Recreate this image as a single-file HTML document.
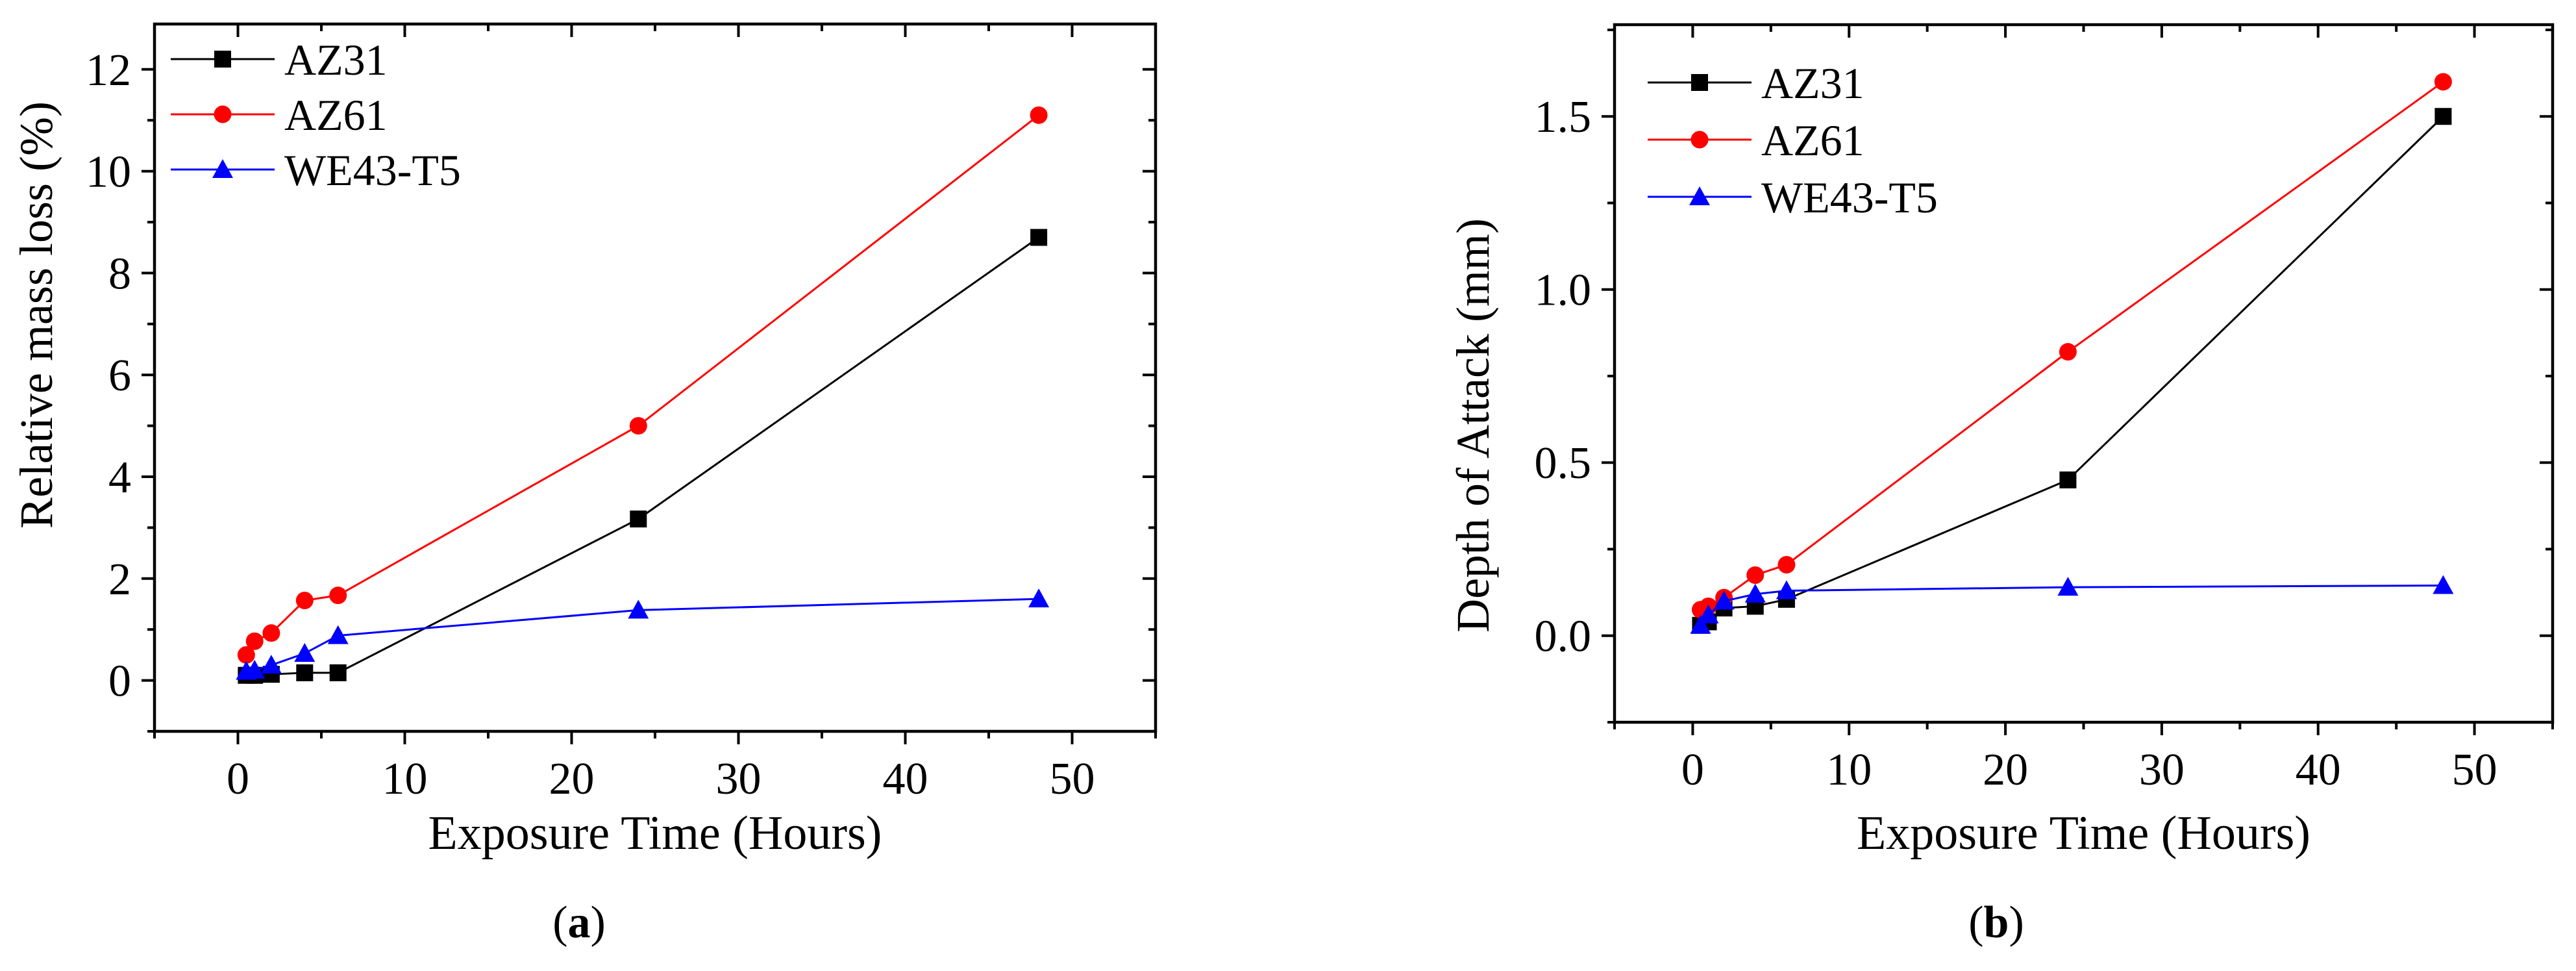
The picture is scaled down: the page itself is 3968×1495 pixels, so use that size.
<!DOCTYPE html>
<html><head><meta charset="utf-8"><style>
html,body{margin:0;padding:0;background:#fff;}
svg{display:block;}
text{font-family:"Liberation Serif",serif;fill:#000;}
</style></head>
<body>
<svg id="fig" width="3968" height="1495" viewBox="0 0 3968 1495" xmlns="http://www.w3.org/2000/svg"></svg>
<script>
// ---- data ----
const timesA = [0.5, 1, 2, 4, 6, 24, 48];
const massAZ31 = [0.1, 0.1, 0.12, 0.15, 0.15, 3.17, 8.7];
const massAZ61 = [0.5, 0.77, 0.93, 1.57, 1.67, 5.0, 11.1];
const massWE43 = [0.18, 0.2, 0.3, 0.53, 0.88, 1.38, 1.6];
const depthAZ31 = [0.03, 0.04, 0.08, 0.085, 0.105, 0.45, 1.5];
const depthAZ61 = [0.075, 0.085, 0.11, 0.175, 0.205, 0.82, 1.6];
const depthWE43 = [0.03, 0.06, 0.1, 0.12, 0.13, 0.14, 0.145];
const xTicks = [0, 10, 20, 30, 40, 50];
const yTicksA = [0, 2, 4, 6, 8, 10, 12];
const yTicksB = [0, 0.5, 1.0, 1.5];
const seriesNames = ["AZ31", "AZ61", "WE43-T5"];

const NS = "http://www.w3.org/2000/svg";
const svg = document.getElementById("fig");
function mk(tag, attrs, parent) {
  const e = document.createElementNS(NS, tag);
  for (const k in attrs) e.setAttribute(k, attrs[k]);
  (parent || svg).appendChild(e);
  return e;
}

function marker(g, type, cx, cy, color) {
  let m;
  if (type === "square") m = mk("rect", {x: cx - 13, y: cy - 13, width: 26, height: 26, fill: color}, g);
  else if (type === "circle") m = mk("circle", {cx: cx, cy: cy, r: 13.5, fill: color}, g);
  else m = mk("polygon", {points: `${cx},${cy - 16} ${cx + 16},${cy + 13} ${cx - 16},${cy + 13}`, fill: color}, g);
  return m;
}

function chart(cfg) {
  const g = mk("g", {});
  
  
  const X = v => cfg.L + (v - cfg.xmin) / (cfg.xmax - cfg.xmin) * (cfg.R - cfg.L);
  const Y = v => cfg.B - (v - cfg.ymin) / (cfg.ymax - cfg.ymin) * (cfg.B - cfg.T);
  const fr = mk("rect", {x: cfg.L, y: cfg.T, width: cfg.R - cfg.L, height: cfg.B - cfg.T, fill: "none", stroke: "#000", "stroke-width": 4.5}, g);
  
  
  for (let v = -5; v <= 55; v += 5) {
    const major = v % 10 === 0;
    const len = major ? 20 : 11;
    const x = X(v);
    mk("line", {x1: x, y1: cfg.B, x2: x, y2: cfg.B + len, stroke: "#000", "stroke-width": 4}, g);
    mk("line", {x1: x, y1: cfg.T, x2: x, y2: cfg.T + len, stroke: "#000", "stroke-width": 4}, g);
  }
  xTicks.forEach(v => {
    const t = mk("text", {x: X(v), y: cfg.B + 96, "text-anchor": "middle", "font-size": 70}, g);
    t.textContent = v;
    
    
  });
  const ystep = cfg.yMinor;
  for (let v = Math.ceil(cfg.ymin / ystep) * ystep; v <= cfg.ymax + 1e-9; v += ystep) {
    const r = Math.round(v / ystep);
    const major = r % 2 === 0;
    const len = major ? 20 : 11;
    const y = Y(v);
    mk("line", {x1: cfg.L, y1: y, x2: cfg.L - len, y2: y, stroke: "#000", "stroke-width": 4}, g);
    mk("line", {x1: cfg.R, y1: y, x2: cfg.R - len, y2: y, stroke: "#000", "stroke-width": 4}, g);
  }
  cfg.yTicks.forEach(v => {
    const t = mk("text", {x: cfg.L - 36, y: Y(v) + 24, "text-anchor": "end", "font-size": 70}, g);
    t.textContent = cfg.fmt(v);
    
    
  });
  const colors = ["#000", "#f00", "#00f"];
  const types = ["square", "circle", "triangle"];
  cfg.series.forEach((vals, i) => {
    const sg = mk("g", {}, g);
    
    
    const pts = timesA.map((t, k) => X(t) + "," + Y(vals[k])).join(" ");
    const pl = mk("polyline", {points: pts, fill: "none", stroke: colors[i], "stroke-width": 3}, sg);
    
    
    timesA.forEach((t, k) => {
      const m = marker(sg, types[i], X(t), Y(vals[k]), colors[i]);
      
      
    });
  });
  const lg = mk("g", {}, g);
  
  
  seriesNames.forEach((n, i) => {
    const y = cfg.legY + i * cfg.legGap;
    const eg = mk("g", {}, lg);
    
    
    mk("line", {x1: cfg.legX, y1: y, x2: cfg.legX + 160, y2: y, stroke: colors[i], "stroke-width": 3}, eg);
    marker(eg, types[i], cfg.legX + 80, y, colors[i]);
    const t = mk("text", {x: cfg.legX + 175, y: y + 24, "font-size": 68}, eg);
    t.textContent = n;
  });
  const xt = mk("text", {x: (cfg.L + cfg.R) / 2 + cfg.xtOff, y: 1307, "text-anchor": "middle", "font-size": 74}, g);
  xt.textContent = "Exposure Time (Hours)";
  
  
  const yt = mk("text", {x: 0, y: 0, "text-anchor": "middle", "font-size": 72, transform: `translate(${cfg.ytX},${cfg.ytY}) rotate(-90)`}, g);
  yt.textContent = cfg.ytitle;
  
  
  const cap = mk("text", {x: cfg.capX, y: 1443, "text-anchor": "middle", "font-size": 70}, g);
  cap.innerHTML = '(<tspan font-weight="bold">' + cfg.cap + '</tspan>)';
  
  
}

chart({name: "chart-a-mass-loss", L: 238, R: 1780, T: 37, B: 1126, xmin: -5, xmax: 55, ymin: -1, ymax: 12.89,
  yMinor: 1, yTicks: yTicksA, fmt: v => String(v), series: [massAZ31, massAZ61, massWE43],
  legX: 263, legY: 91, legGap: 85, xtOff: 0, ytitle: "Relative mass loss (%)", ytX: 80, ytY: 485, capX: 892, cap: "a"});
chart({name: "chart-b-depth-of-attack", L: 2487, R: 3932, T: 38, B: 1112, xmin: -5, xmax: 55, ymin: -0.25, ymax: 1.765,
  yMinor: 0.25, yTicks: yTicksB, fmt: v => v.toFixed(1), series: [depthAZ31, depthAZ61, depthWE43],
  legX: 2538, legY: 127, legGap: 88, xtOff: 0, ytitle: "Depth of Attack (mm)", ytX: 2293, ytY: 655, capX: 3075, cap: "b"});
</script>
</body></html>
